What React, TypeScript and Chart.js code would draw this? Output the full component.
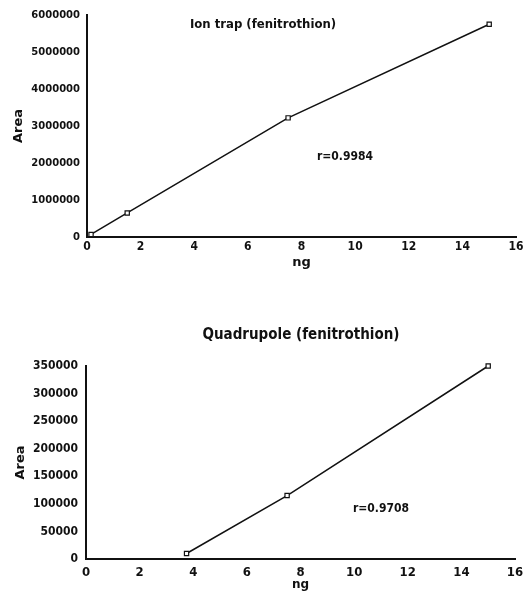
import React, { useEffect, useRef } from "react";
import { Chart, registerables } from "chart.js";

Chart.register(...registerables);

// ---- data ----
const ionTrapNg = [0.15, 1.5, 7.5, 15];
const ionTrapArea = [70000, 650000, 3220000, 5750000];
const quadNg = [3.75, 7.5, 15];
const quadArea = [10000, 115000, 350000];

const ionTrapTitle = "Ion trap (fenitrothion)";
const ionTrapR = "r=0.9984";
const quadTitle = "Quadrupole (fenitrothion)";
const quadR = "r=0.9708";
const xLabel = "ng";
const yLabel = "Area";

const NARROW = '"DejaVu Sans Condensed", "DejaVu Sans", sans-serif';
const WIDE = '"DejaVu Sans", sans-serif';
const INK = "#111";

const textPlugin = {
  id: "texts",
  afterDraw(chart: any, _args: any, opts: any) {
    const ctx = chart.ctx;
    ctx.save();
    for (const t of opts.items || []) {
      ctx.font = t.font;
      ctx.fillStyle = INK;
      ctx.textAlign = "center";
      ctx.textBaseline = "middle";
      ctx.fillText(t.text, t.x, t.y);
    }
    ctx.restore();
  },
};

type PanelProps = {
  width: number;
  height: number;
  xs: number[];
  ys: number[];
  yMax: number;
  yStep: number;
  padTop: number;
  padRight: number;
  yAxisWidth: number;
  xAxisHeight: number;
  yTickFont: any;
  yTickPad: number;
  xTickFont: any;
  xTickPad: number;
  xTitleSize: number;
  xTitlePad: number;
  yTitlePad: number;
  texts: any[];
};

function Panel(p: PanelProps) {
  const ref = useRef<HTMLCanvasElement>(null);
  useEffect(() => {
    if (!ref.current) return;
    const chart = new Chart(ref.current, {
      type: "scatter",
      data: {
        datasets: [
          {
            data: p.xs.map((x, i) => ({ x, y: p.ys[i] })),
            showLine: true,
            clip: false,
            borderColor: INK,
            borderWidth: 1.5,
            pointStyle: "rect",
            pointRadius: 3,
            pointBackgroundColor: "#fff",
            pointBorderColor: INK,
            pointBorderWidth: 1.2,
          },
        ],
      },
      options: {
        responsive: false,
        animation: false,
        layout: { padding: { top: p.padTop, right: p.padRight, left: 0, bottom: 0 } },
        plugins: {
          legend: { display: false },
          tooltip: { enabled: false },
          texts: { items: p.texts },
        } as any,
        scales: {
          x: {
            type: "linear",
            min: 0,
            max: 16,
            grid: { display: false, drawTicks: false },
            border: { display: true, color: INK, width: 2 },
            ticks: {
              stepSize: 2,
              color: INK,
              font: p.xTickFont,
              padding: p.xTickPad,
              maxRotation: 0,
              callback: (v: any) => String(v),
            },
            title: {
              display: true,
              text: xLabel,
              color: INK,
              font: { family: WIDE, size: p.xTitleSize, weight: "bold" },
              padding: { top: 0, bottom: p.xTitlePad },
            },
            afterFit: (s: any) => {
              s.height = p.xAxisHeight;
              s.paddingLeft = 0;
              s.paddingRight = 0;
            },
          },
          y: {
            type: "linear",
            min: 0,
            max: p.yMax,
            grid: { display: false, drawTicks: false },
            border: { display: true, color: INK, width: 2 },
            ticks: {
              stepSize: p.yStep,
              color: INK,
              font: p.yTickFont,
              padding: p.yTickPad,
              callback: (v: any) => String(v),
            },
            title: {
              display: true,
              text: yLabel,
              color: INK,
              font: { family: WIDE, size: 13, weight: "bold" },
              padding: { top: p.yTitlePad, bottom: 0 },
            },
            afterFit: (s: any) => {
              s.width = p.yAxisWidth;
              s.paddingTop = 0;
              s.paddingBottom = 0;
            },
          },
        },
      },
      plugins: [textPlugin],
    } as any);
    return () => chart.destroy();
  }, []);
  return (
    <canvas
      ref={ref}
      width={p.width}
      height={p.height}
      style={{ display: "block", width: p.width, height: p.height }}
    />
  );
}

export default function App() {
  useEffect(() => {
    document.body.style.margin = "0";
    document.body.style.background = "#fff";
  }, []);
  return (
    <div style={{ width: 523, height: 598, background: "#fff" }}>
      <Panel
        width={523}
        height={282}
        xs={ionTrapNg}
        ys={ionTrapArea}
        yMax={6000000}
        yStep={1000000}
        padTop={15}
        padRight={7}
        yAxisWidth={87}
        xAxisHeight={45}
        yTickFont={{ family: WIDE, size: 10, weight: "bold" }}
        yTickPad={7}
        xTickFont={{ family: NARROW, size: 12, weight: "bold" }}
        xTickPad={3}
        xTitleSize={13}
        xTitlePad={12}
        yTitlePad={11}
        texts={[
          { text: ionTrapTitle, x: 263, y: 25, font: `bold 13px ${NARROW}` },
          { text: ionTrapR, x: 345, y: 157, font: `bold 12px ${NARROW}` },
        ]}
      />
      <Panel
        width={523}
        height={316}
        xs={quadNg}
        ys={quadArea}
        yMax={350000}
        yStep={50000}
        padTop={84}
        padRight={8}
        yAxisWidth={86}
        xAxisHeight={39}
        yTickFont={{ family: NARROW, size: 12, weight: "bold" }}
        yTickPad={8}
        xTickFont={{ family: NARROW, size: 13, weight: "bold" }}
        xTickPad={6}
        xTitleSize={12}
        xTitlePad={6}
        yTitlePad={13}
        texts={[
          { text: quadTitle, x: 301, y: 53, font: `bold 15px ${NARROW}` },
          { text: quadR, x: 381, y: 227, font: `bold 12px ${NARROW}` },
        ]}
      />
    </div>
  );
}
